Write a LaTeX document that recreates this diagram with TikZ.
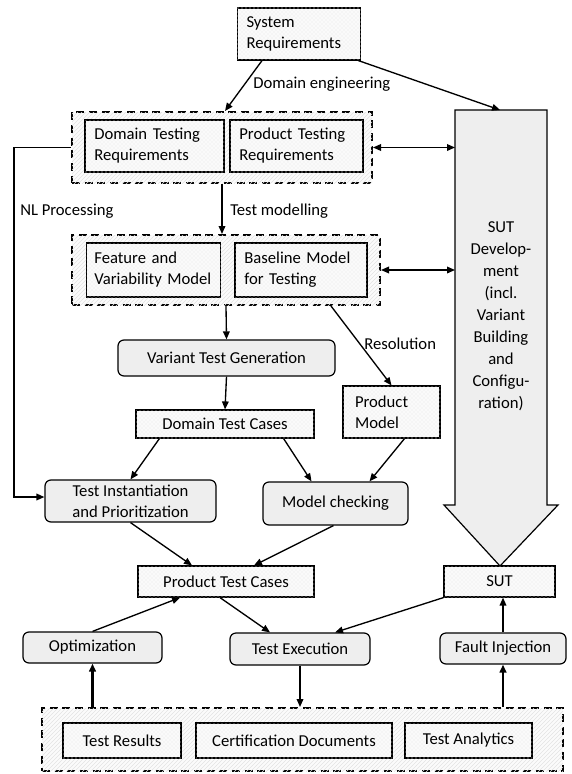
\documentclass[tikz,border=0pt]{standalone}
\usepackage{fontspec}
\setmainfont{Carlito}
\usetikzlibrary{arrows.meta,calc,patterns}
\begin{document}
\begin{tikzpicture}[x=0.75pt,y=-0.75pt,
  font=\fontsize{12.5}{15.75}\selectfont,
  >={Triangle[length=6pt,width=5pt]},
  arr/.style={->, line width=1pt},
  darr/.style={<->, line width=1pt},
  tharr/.style={->, line width=1.6pt},
  tbox/.style={draw, line width=0.9pt, fill=gray!4, postaction={pattern=crosshatch dots, pattern color=gray!18}, inner sep=0pt, align=center},
  ltbox/.style={tbox, align=left, inner xsep=7pt},
  rbox/.style={draw, line width=0.9pt, fill=gray!13, rounded corners=4.5pt, inner sep=0pt, align=center},
  grp/.style={draw, line width=1.5pt, dash pattern=on 6pt off 3.5pt, fill=gray!3, postaction={pattern=north east lines, pattern color=gray!22}, inner sep=0pt},
  lbl/.style={inner sep=0pt, anchor=west}
]
\useasboundingbox (0,0) rectangle (571,774);

% SUT development arrow
\draw[line width=0.9pt, fill=gray!13] (455,110) -- (547,110) -- (547,505) -- (558,505) -- (500,566) -- (444,505) -- (455,505) -- cycle;
\node[align=center, inner sep=0pt, font=\fontsize{12.5}{16.5}\selectfont] (sutdev) at (501,316) {SUT\\Develop-\\ment\\(incl.\\Variant\\Building\\and\\Configu-\\ration)};
\coordinate (suttop) at (500,110);
\coordinate (sutl1) at (455,147.5);
\coordinate (sutl2) at (455,270);

% groups
\node[grp, minimum width=225pt, minimum height=53.25pt] (g1) at (222,147.5) {};
\node[grp, minimum width=231pt, minimum height=52.5pt] (g2) at (226,270) {};
\node[grp, minimum width=390.75pt, minimum height=47.25pt] (g3) at (302.5,739.5) {};

% boxes
\node[ltbox, text width=78.75pt, minimum height=39pt] (sys) at (299,34) {System\\Requirements};
\node[ltbox, text width=90.25pt, minimum height=39pt] (dtr) at (154.5,146) {Domain Testing\\Requirements};
\node[ltbox, text width=85.75pt, minimum height=39pt] (ptr) at (296.5,146) {Product Testing\\Requirements};
\node[ltbox, text width=88.75pt, minimum height=40.5pt, inner xsep=6pt] (fvm) at (153.5,270) {Feature and\\Variability Model};
\node[ltbox, text width=85pt, minimum height=40.5pt] (bm) at (301,270) {Baseline Model\\for Testing};
\node[rbox, minimum width=162.75pt, minimum height=27pt] (vtg) at (226.5,358) {Variant Test Generation};
\node[tbox, minimum width=133.5pt, minimum height=21pt] (dtc) at (225,424) {Domain Test Cases};
\node[ltbox, text width=54.75pt, inner xsep=9pt, minimum height=39pt] (pm) at (391.5,412) {Product\\Model};
\node[rbox, minimum width=128.25pt, minimum height=31.5pt] (tip) at (130.5,501) {Test Instantiation\\and Prioritization};
\node[rbox, minimum width=108.75pt, minimum height=32.25pt] (mc) at (335.5,503.5) {Model checking};
\node[tbox, minimum width=132pt, minimum height=23.25pt] (ptc) at (226,581.5) {Product Test Cases};
\node[tbox, minimum width=83.25pt, minimum height=23.25pt] (sut) at (499.5,581.5) {SUT};
\node[rbox, minimum width=104.25pt, minimum height=23.25pt] (opt) at (92.5,647.5) {Optimization};
\node[rbox, minimum width=105pt, minimum height=24pt] (te) at (300,649) {Test Execution};
\node[rbox, minimum width=94.5pt, minimum height=23.25pt] (fi) at (503,648.5) {Fault Injection};
\node[tbox, minimum width=88.5pt, minimum height=26.25pt] (tr) at (122,740.5) {Test Results};
\node[tbox, minimum width=147pt, minimum height=26.25pt] (cd) at (294,740.5) {Certification Documents};
\node[tbox, minimum width=95.25pt, minimum height=26.25pt] (ta) at (468.5,740.5) {Test Analytics};

% labels
\node[lbl] (l1) at (253,84) {Domain engineering};
\node[lbl] (l2) at (20,211) {NL Processing};
\node[lbl] (l3) at (230,211) {Test modelling};
\node[lbl] (l4) at (364,344) {Resolution};

% connectors
\draw[arr] ($(sys.south)+(-37,0)$) -- ($(g1.north)+(3,0)$);
\draw[arr] ($(sys.south east)+(-3,0)$) -- (suttop);
\draw[darr] (g1.east) -- (sutl1);
\draw[arr] (g1.west) -- ++(-57,0) |- ($(tip.west)+(0,-4)$);
\draw[arr] (g1.south) -- (g1.south |- g2.north);
\draw[darr] (g2.east) -- (sutl2);
\draw[arr] (g2.south) -- (vtg.north);
\draw[arr] ($(g2.south east)+(-50,0)$) -- (pm.north);
\draw[arr] (vtg.south) -- (dtc.north);
\draw[arr] ($(dtc.south west)+(24,0)$) -- (tip.north);
\draw[arr] ($(dtc.south east)+(-31,0)$) -- ($(mc.north)+(-24,0)$);
\draw[arr] ($(pm.south)+(13,0)$) -- ($(mc.north)+(34,0)$);
\draw[arr] (tip.south) -- ($(ptc.north)+(-34,0)$);
\draw[arr] ($(mc.south)+(-2,0)$) -- ($(ptc.north)+(28,0)$);
\draw[arr] (opt.north) -- ($(ptc.south)+(-46,0)$);
\draw[arr] ($(ptc.south)+(-6,0)$) -- ($(te.north)+(-30,0)$);
\draw[arr] (sut.south west) -- ($(te.north)+(35,0)$);
\draw[arr] (fi.north) -- (fi.north |- sut.south);
\draw[arr] (te.south) -- (te.south |- g3.north);
\draw[tharr] (g3.north -| opt.south) -- (opt.south);
\draw[tharr] (g3.north -| fi.south) -- (fi.south);
\end{tikzpicture}
\end{document}
